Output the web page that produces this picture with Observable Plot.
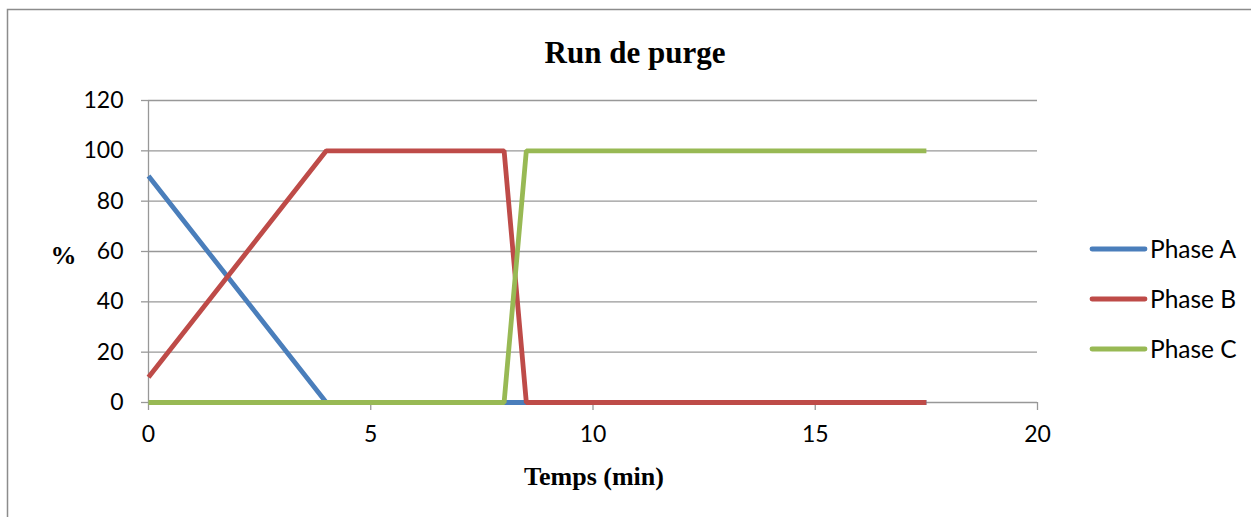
<!DOCTYPE html>
<html>
<head>
<meta charset="utf-8">
<script src="https://cdn.jsdelivr.net/npm/d3@7"></script>
<script src="https://cdn.jsdelivr.net/npm/@observablehq/plot@0.6"></script>
<style>
  html, body { margin: 0; padding: 0; background: #fff; }
  #chart { position: relative; width: 1251px; height: 517px; }
</style>
</head>
<body>
<div id="chart"></div>
<script>
const time = [0, 4, 8, 8.5, 17.5];
const phaseA = [90, 0, 0, 0, 0];
const phaseB = [10, 100, 100, 0, 0];
const phaseC = [0, 0, 0, 100, 100];
const seriesNames = ["Phase A", "Phase B", "Phase C"];
const seriesColors = ["#4a7ebb", "#be4b48", "#98b954"];
const xTicks = [0, 5, 10, 15, 20];
const yTicks = [0, 20, 40, 60, 80, 100, 120];

const seriesValues = [phaseA, phaseB, phaseC];
const data = seriesNames.flatMap((name, s) =>
  time.map((t, i) => ({ series: name, t, v: seriesValues[s][i] })));

const W = 1251, H = 517;
const mL = 148, mR = 214, mT = 100, mB = 115;
const tickFont = "Lato, 'Open Sans', sans-serif";
const serif = "'Liberation Serif', 'DejaVu Serif', serif";

const plot = Plot.plot({
  width: W, height: H,
  marginLeft: mL, marginRight: mR, marginTop: mT, marginBottom: mB,
  style: { fontFamily: tickFont, fontSize: "23px", color: "#000", background: "#fff", overflow: "visible" },
  x: { domain: [0, 20], ticks: xTicks },
  y: { domain: [0, 120], ticks: yTicks },
  color: { domain: seriesNames, range: seriesColors },
  marks: [
    Plot.gridY(yTicks, { stroke: "#989898", strokeOpacity: 1, strokeWidth: 1.3 }),
    Plot.ruleX([0], { stroke: "#989898", strokeWidth: 1.3, y1: 0, y2: 120 }),
    Plot.axisY({ ticks: yTicks, tickSize: 7, tickPadding: 18, stroke: "#989898", strokeWidth: 1.3, label: null, fontSize: 23 }),
    Plot.axisX({ ticks: xTicks, tickSize: 8, tickPadding: 15, stroke: "#989898", strokeWidth: 1.3, label: null, fontSize: 23 }),
    Plot.line(data, { x: "t", y: "v", z: "series", stroke: "series", strokeWidth: 4.8, strokeLinejoin: "miter", strokeLinecap: "butt" }),
    Plot.text(["Run de purge"], { frameAnchor: "top", dy: -60, text: d => d, fontFamily: serif, fontWeight: "bold", fontSize: 31, dx: 42 }),
    Plot.text(["Temps (min)"], { frameAnchor: "bottom", dy: 82, text: d => d, fontFamily: serif, fontWeight: "bold", fontSize: 26, dx: 1 }),
    Plot.text(["%"], { frameAnchor: "left", dx: -98, dy: 4, text: d => d, fontFamily: serif, fontWeight: "bold", fontSize: 26 })
  ]
});

const svg = d3.select(plot);
// outer chart border
svg.insert("rect", ":first-child")
  .attr("x", 7.5).attr("y", 9.5).attr("width", W).attr("height", H)
  .attr("fill", "none").attr("stroke", "#8c8c8c").attr("stroke-width", 1.5);

// legend
const legend = svg.append("g").attr("font-family", tickFont).attr("font-size", 24.5).attr("text-anchor", "start");
seriesNames.forEach((name, i) => {
  const y = 249 + i * 50;
  legend.append("line").attr("x1", 1092).attr("x2", 1145).attr("y1", y).attr("y2", y)
    .attr("stroke", seriesColors[i]).attr("stroke-width", 4.8).attr("stroke-linecap", "round");
  legend.append("text").attr("x", 1150).attr("y", y).attr("dy", "0.35em").attr("text-anchor", "start").text(name);
});

document.getElementById("chart").appendChild(plot);
</script>
</body>
</html>
